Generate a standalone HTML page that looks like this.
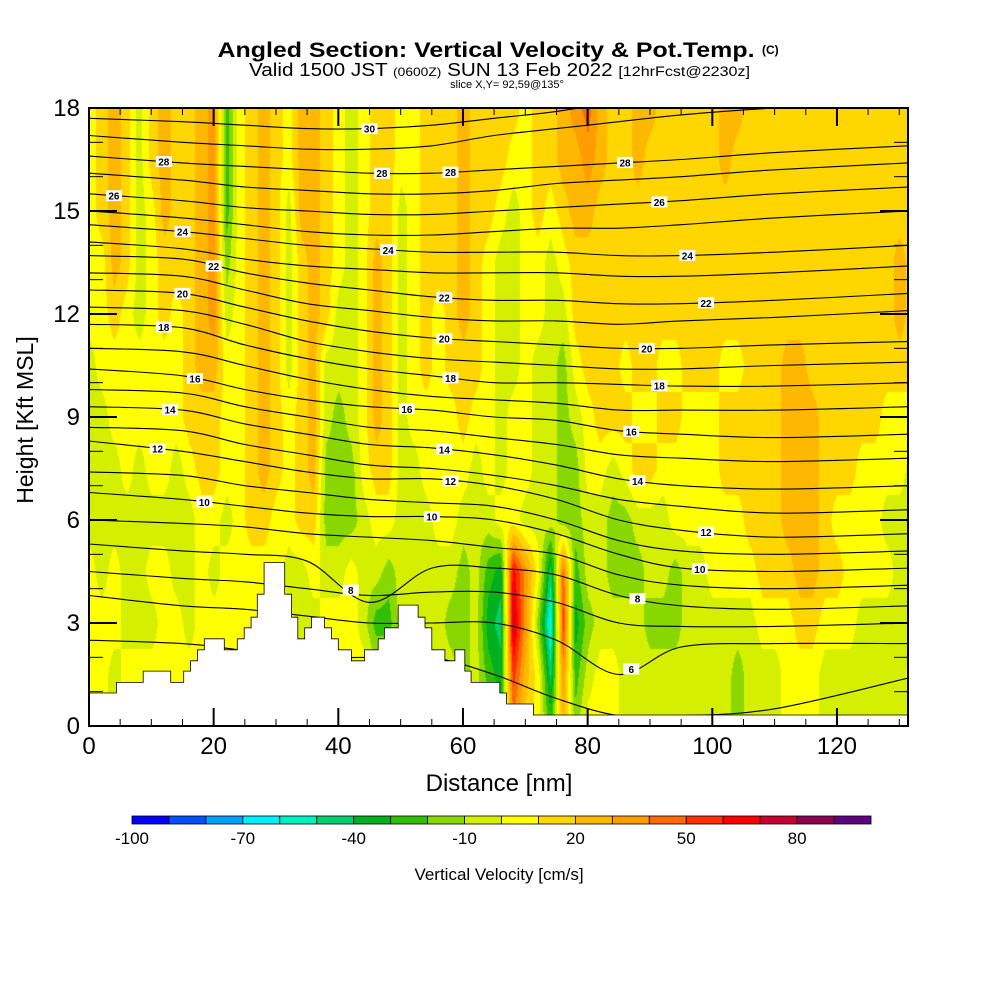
<!DOCTYPE html>
<html><head><meta charset="utf-8"><style>
html,body{margin:0;padding:0;background:#fff;}
#wrap{position:relative;width:1000px;height:1000px;overflow:hidden;font-family:"Liberation Sans",sans-serif;}
#field{position:absolute;left:89px;top:108px;}
#ov{position:absolute;left:0;top:0;}
</style></head><body>
<div id="wrap">
<canvas id="field" width="819" height="618"></canvas>
<svg id="ov" width="1000" height="1000" xmlns="http://www.w3.org/2000/svg">
<g id="contours"></g>
<g id="terrain"></g>
<g id="labels"></g>
<g id="axes"></g>
<g id="cbar"></g>
<text x="486" y="57" font-size="21" font-weight="bold" text-anchor="middle" textLength="537" lengthAdjust="spacingAndGlyphs">Angled Section: Vertical Velocity &amp; Pot.Temp.</text>
<text x="762" y="54" font-size="12" font-weight="bold">(C)</text>
<text x="249" y="76" font-size="18" textLength="501" lengthAdjust="spacingAndGlyphs">Valid 1500 JST <tspan font-size="12">(0600Z)</tspan> SUN 13 Feb 2022 <tspan font-size="14">[12hrFcst@2230z]</tspan></text>
<text x="507" y="88" font-size="11" text-anchor="middle">slice X,Y= 92,59@135°</text>
<text x="499" y="791" font-size="24" text-anchor="middle">Distance [nm]</text>
<text x="0" y="0" font-size="23" text-anchor="middle" transform="translate(33,420) rotate(-90)">Height [Kft MSL]</text>
<text x="499" y="880" font-size="17" text-anchor="middle">Vertical Velocity [cm/s]</text>
</svg>
</div>
<script>
// ---- data ----
const distances = []; for (let d = 0; d <= 132; d += 2) distances.push(d);
const heights = [0,1.5,3,4.5,6,7.5,9,10.5,12,13.5,15,16.5,18];
const vH0   = [5,5,-5,5,5,5,5,5,5,5, 5,5,5,5,5,5,5,5,5,5, 5,5,5,-5,-5,-5,-5,-5,-5,-5, -15,-5,-15,-25,35,15,5,-25,25,-15, 5,5,5,-5,-5,-5,-5,-5,-5,-5, -5,-5,-15,-5,-5,-5,5,5,5,-5, -5,-5,-5,-5,-5,-5,-5];
const vH15  = [5,5,-5,5,5,5,5,5,5,5, 5,5,5,5,5,5,5,5,5,5, 5,5,5,-5,-5,-5,-5,-5,-5,-5, -15,-5,-25,-35,55,25,5,-45,35,-25, -5,5,5,-5,-5,-5,-5,-5,-5,-5, -5,-5,-15,-5,-5,-5,5,5,5,-5, -5,-5,-5,-5,-5,-5,5];
const vH3   = [5,5,5,-5,-5,-5,5,5,-5,5, 5,5,5,5,5,5,5,-5,-5,5, 5,5,-5,-25,-25,-5,-5,-5,-5,-15, -15,-5,-35,-45,75,35,-15,-65,55,-35, -15,-5,-5,-5,-5,-15,-15,-15,-5,-5, -5,-5,-5,-5,5,5,5,15,15,5, 5,5,-5,-5,-5,-5,-5];
const vH45  = [5,-5,5,-5,-5,5,5,-5,-5,5, -5,5,5,5,5,5,-5,-5,5,-5, -5,5,-5,-5,-15,-5,-5,-5,-5,-5, -15,-5,-25,-35,65,35,5,-45,45,-25, -5,-5,-15,-15,-15,-5,-5,-15,-5,-5, 5,5,5,5,15,15,15,25,25,15, 15,5,5,5,5,-5,-5];
const vH6   = [-5,-5,-5,-5,-5,-5,-5,-5,-5,5, 5,-5,5,15,15,5,5,15,15,-15, -15,-15,-5,5,5,-5,-5,-5,5,5, -5,-5,-5,5,5,-5,-5,-5,-15,-15, -5,-5,-15,-15,-5,-5,-5,5,5,5, 5,5,5,15,15,15,25,25,25,15, 5,5,5,5,-5,-5,-5];
const vH75  = [-5,-5,-5,5,-5,5,5,-5,5,15, 15,5,5,15,25,15,5,15,25,-15, -15,-15,5,15,15,-5,-5,5,5,5, 5,-5,5,-5,5,5,-5,-5,-15,-15, 5,5,-5,5,15,15,5,5,5,5, 5,15,15,15,15,15,25,25,25,15, 15,15,5,5,5,5,-5];
const vH9   = [-5,-5,5,5,5,5,5,5,15,15, 15,5,5,15,25,15,5,15,25,-5, -15,-5,5,25,15,-5,5,5,5,5, 15,5,5,-5,5,5,-5,-5,-15,-5, 5,15,15,15,5,5,15,15,5,5, 5,15,15,15,15,15,25,25,25,15, 15,15,15,15,5,5,5];
const vH105 = [-5,5,5,5,5,5,5,5,15,25, 25,5,5,15,25,15,-5,15,25,-5, -5,-5,5,25,15,-5,5,15,5,15, 15,15,5,-5,-5,5,-5,-5,-15,5, 15,15,15,5,15,15,5,5,15,15, 15,5,5,15,15,15,25,25,15,15, 15,15,15,15,15,15,15];
const vH12  = [5,5,15,5,-5,5,15,5,15,25, 35,-5,5,15,25,15,-5,15,25,15, -5,-5,5,25,15,-5,5,15,5,15, 25,15,5,-5,-5,5,5,-5,-5,15, 15,15,15,15,15,15,15,15,15,15, 15,15,15,15,15,15,15,15,15,15, 15,15,15,15,15,25,15];
const vH135 = [5,5,25,15,-5,5,15,15,15,25, 35,-15,5,15,25,15,-5,15,25,15, 5,-5,5,25,15,-5,5,15,15,15, 25,15,5,-5,-5,5,5,-5,5,15, 15,15,15,15,15,15,15,15,15,15, 15,15,15,15,15,15,15,15,15,15, 15,15,15,15,15,25,15];
const vH150 = [5,15,25,15,-5,5,25,15,15,25, 35,-25,5,15,25,15,-5,25,25,15, 5,-5,5,15,15,-5,5,15,15,15, 25,15,15,5,-5,5,15,5,15,25, 25,15,15,15,15,15,15,15,15,15, 15,15,15,15,15,15,15,15,15,15, 15,15,15,15,15,15,15];
const vH165 = [5,15,25,15,-5,15,25,15,15,25, 35,-25,5,15,25,15,5,25,25,15, 5,-5,5,15,15,5,5,15,15,15, 25,15,15,15,5,5,15,15,25,25, 35,25,15,15,25,15,15,15,15,15, 15,25,15,15,15,15,15,15,15,15, 15,15,15,15,15,15,15];
const vH18  = [5,15,25,15,-5,15,25,15,15,25, 35,-25,5,15,25,15,5,25,25,15, 5,-5,5,15,15,5,5,15,15,15, 25,15,15,15,15,5,15,15,25,35, 45,25,15,15,25,25,15,15,15,15, 15,25,25,15,15,15,15,15,15,15, 15,15,15,15,15,15,15];
const velocity = [vH0,vH15,vH3,vH45,vH6,vH75,vH9,vH105,vH12,vH135,vH150,vH165,vH18];

const contourX = [0,15,25,35,45,55,65,75,85,95,110,131.5];
const thetaLevels = [5,6,7,8,9,10,11,12,13,14,15,16,17,18,19,20,21,22,23,24,25,26,27,28,29,30];
const thetaHeights = [
 [2.5,2.4,2.2,2.0,2.0,2.0,1.5,0.8,0.3,0.3,0.5,1.4],
 [3.8,3.5,3.4,3.2,3.0,3.0,3.0,2.5,1.5,2.3,2.4,2.4],
 [4.5,4.3,4.2,4.0,3.8,3.9,3.9,3.6,3.0,2.9,2.9,3.0],
 [5.3,5.1,5.0,4.8,3.6,4.6,4.6,4.4,3.8,3.5,3.4,3.5],
 [6.0,5.9,5.8,5.6,5.5,5.4,5.2,5.0,4.4,4.1,4.0,4.1],
 [6.8,6.6,6.4,6.2,6.1,6.1,6.0,5.6,5.0,4.6,4.5,4.6],
 [7.4,7.3,7.0,6.8,6.6,6.5,6.4,6.0,5.4,5.1,5.0,5.1],
 [8.3,8.0,7.7,7.4,7.2,7.2,7.0,6.6,6.0,5.7,5.5,5.6],
 [8.7,8.6,8.2,7.9,7.6,7.5,7.3,7.0,6.6,6.4,6.2,6.3],
 [9.3,9.2,8.8,8.5,8.2,8.1,7.9,7.6,7.2,7.0,6.9,7.0],
 [9.8,9.7,9.3,9.0,8.7,8.6,8.4,8.2,7.9,7.8,7.7,7.8],
 [10.4,10.2,9.8,9.5,9.3,9.2,9.0,8.9,8.6,8.5,8.4,8.5],
 [11.0,10.9,10.5,10.1,9.8,9.6,9.5,9.4,9.2,9.2,9.2,9.3],
 [11.7,11.6,11.1,10.7,10.4,10.2,10.0,10.0,9.95,9.9,9.9,10.0],
 [12.2,12.1,11.7,11.2,10.9,10.7,10.6,10.5,10.4,10.4,10.5,10.6],
 [12.7,12.6,12.2,11.8,11.5,11.3,11.2,11.1,11.0,11.0,11.1,11.2],
 [13.2,13.1,12.7,12.3,12.1,11.9,11.8,11.8,11.7,11.8,11.9,12.1],
 [13.7,13.6,13.2,12.9,12.7,12.5,12.4,12.4,12.3,12.3,12.4,12.6],
 [14.1,13.9,13.6,13.4,13.3,13.2,13.2,13.2,13.1,13.1,13.2,13.4],
 [14.6,14.4,14.2,14.0,13.9,13.8,13.8,13.8,13.7,13.7,13.8,14.0],
 [15.0,14.8,14.6,14.4,14.3,14.3,14.4,14.5,14.5,14.6,14.8,15.0],
 [15.5,15.3,15.1,15.0,14.9,14.9,15.0,15.1,15.2,15.3,15.5,15.7],
 [16.1,15.9,15.7,15.6,15.5,15.5,15.6,15.8,15.9,16.0,16.2,16.4],
 [16.6,16.4,16.3,16.2,16.1,16.1,16.2,16.3,16.4,16.5,16.7,16.9],
 [17.2,17.0,16.9,16.8,16.8,16.9,17.2,17.4,17.6,17.8,18.0,18.2],
 [17.7,17.6,17.5,17.4,17.4,17.5,17.7,17.9,18.2,18.5,18.8,19.0]
];
const labelLevels = [30,28,26,24,22,20,18,16,14,12,10, 28,28,24,22,20,18,16,14,12,10,8, 28,26,24,22,20,18,16,14,12,10,8,6];
const labelDist   = [45,12,4,15,20,15,12,17,13,11,18.5, 58,47,48,57,57,58,51,57,58,55,42, 86,91.5,96,99,89.5,91.5,87,88,99,98,88,87];
const terrainStart = [0,4.4,8.7,13.1,15.2,16.3,17.4,18.5,21.7,23.8,24.9,26.0,27.0,28.1,31.4,32.5,33.5,34.6,35.7,37.8,38.9,40.0,42.1,44.2,46.4,47.4,49.6,52.8,53.9,55.0,57.1,58.7,60.3,61.3,65.9,67.0,71.3];
const terrainHeight= [0.96,1.27,1.6,1.27,1.6,1.9,2.22,2.54,2.22,2.54,2.86,3.17,3.84,4.76,3.84,3.17,2.54,2.86,3.17,2.86,2.54,2.22,1.9,2.22,2.54,2.86,3.52,3.17,2.86,2.22,1.9,2.22,1.6,1.27,0.96,0.64,0.32];
const xTicks = [0,20,40,60,80,100,120];
const yTicks = [0,3,6,9,12,15,18];
const cbarTickLabels = [-100,-70,-40,-10,20,50,80];
const cbarColors = ['#0000ff','#0050ff','#00a0ff','#00f0ff','#00f0c0','#00d070','#00b020','#30c000','#88d800','#d4f000','#ffff00','#ffd600','#ffb800','#ff9c00','#ff6a00','#ff3000','#ff0000','#c80030','#900050','#600080'];

// ---- scales ----
const X0 = 89, X1 = 908, Y0 = 726, Y1 = 108;
const xPer = 6.233, yPer = (Y0 - Y1) / 18;
const sx = d => X0 + d * xPer;
const sy = h => Y0 - h * yPer;
const NS = 'http://www.w3.org/2000/svg';
function mk(tag, attrs, parent) { const e = document.createElementNS(NS, tag); for (const k in attrs) e.setAttribute(k, attrs[k]); parent.appendChild(e); return e; }

// ---- field ----
function sample(d, h) {
  let i = Math.min(distances.length - 2, Math.max(0, Math.floor(d / 2)));
  let fx = Math.min(1, Math.max(0, (d - distances[i]) / (distances[i+1] - distances[i])));
  let j = 0; while (j < heights.length - 2 && h > heights[j+1]) j++;
  let fy = Math.min(1, Math.max(0, (h - heights[j]) / (heights[j+1] - heights[j])));
  const a = velocity[j][i], b = velocity[j][i+1], c = velocity[j+1][i], e = velocity[j+1][i+1];
  return (a*(1-fx)+b*fx)*(1-fy) + (c*(1-fx)+e*fx)*fy;
}
const rgb = cbarColors.map(c => [parseInt(c.substr(1,2),16), parseInt(c.substr(3,2),16), parseInt(c.substr(5,2),16)]);
(function drawField(){
  const cv = document.getElementById('field'), ctx = cv.getContext('2d');
  const W = cv.width, H = cv.height, img = ctx.createImageData(W, H);
  for (let py = 0; py < H; py++) {
    const h = (H - py) / yPer;
    for (let px = 0; px < W; px++) {
      const v = sample(px / xPer, h);
      let bin = Math.floor((v + 100) / 10); bin = Math.max(0, Math.min(19, bin));
      const k = (py * W + px) * 4, c = rgb[bin];
      img.data[k] = c[0]; img.data[k+1] = c[1]; img.data[k+2] = c[2]; img.data[k+3] = 255;
    }
  }
  ctx.putImageData(img, 0, 0);
})();

// ---- contours ----
function lineHeight(li, d) {
  const hs = thetaHeights[li];
  for (let k = 0; k < contourX.length - 1; k++) {
    if (d <= contourX[k+1]) { const f = (d - contourX[k]) / (contourX[k+1] - contourX[k]); return hs[k] + (hs[k+1]-hs[k]) * f; }
  }
  return hs[hs.length-1];
}
function catmull(pts) {
  let s = 'M' + pts[0][0].toFixed(1) + ',' + pts[0][1].toFixed(1);
  for (let i = 0; i < pts.length - 1; i++) {
    const p0 = pts[Math.max(0,i-1)], p1 = pts[i], p2 = pts[i+1], p3 = pts[Math.min(pts.length-1,i+2)];
    const c1 = [p1[0]+(p2[0]-p0[0])/6, p1[1]+(p2[1]-p0[1])/6], c2 = [p2[0]-(p3[0]-p1[0])/6, p2[1]-(p3[1]-p1[1])/6];
    s += 'C' + c1.map(n=>n.toFixed(1)).join(',') + ' ' + c2.map(n=>n.toFixed(1)).join(',') + ' ' + p2.map(n=>n.toFixed(1)).join(',');
  }
  return s;
}
const gC = document.getElementById('contours');
const clip = mk('clipPath', {id:'plotclip'}, gC);
mk('rect', {x: X0, y: Y1, width: X1-X0, height: Y0-Y1}, clip);
gC.setAttribute('clip-path','url(#plotclip)');
thetaLevels.forEach((lv, li) => {
  const pts = contourX.map((d, k) => [sx(d), sy(thetaHeights[li][k])]);
  const p = mk('path', {d: catmull(pts), fill:'none', stroke:'#000', 'stroke-width':'1.1'}, gC);
  
  
});

// ---- terrain ----
const gT = document.getElementById('terrain');
let td = 'M' + sx(0) + ',' + Y0;
terrainStart.forEach((d, k) => {
  const end = k < terrainStart.length - 1 ? terrainStart[k+1] : 131.4;
  td += ' L' + sx(d).toFixed(1) + ',' + sy(terrainHeight[k]).toFixed(1) + ' L' + sx(end).toFixed(1) + ',' + sy(terrainHeight[k]).toFixed(1);
});
td += ' L' + X1 + ',' + Y0 + ' Z';
const tp = mk('path', {d: td, fill:'#fff', stroke:'#000', 'stroke-width':'0.8'}, gT);



// ---- contour labels ----
const gL = document.getElementById('labels');
labelLevels.forEach((lv, k) => {
  const li = thetaLevels.indexOf(lv); if (li < 0) return;
  const d = labelDist[k], x = sx(d), y = sy(lineHeight(li, d));
  const g = mk('g', {}, gL);
  
  
  mk('rect', {x: x-8, y: y-5.5, width: 16, height: 11, fill:'#fff'}, g);
  const t = mk('text', {x: x, y: y+4, 'font-size':'10', 'font-weight':'bold', 'text-anchor':'middle'}, g);
  t.textContent = lv;
});

// ---- axes ----
const gA = document.getElementById('axes');
mk('rect', {x: X0, y: Y1, width: X1-X0, height: Y0-Y1, fill:'none', stroke:'#000', 'stroke-width':'2'}, gA);
for (let d = 0; d <= 130; d += 5) {
  const major = d % 20 === 0, L = major ? 18 : 7, x = sx(d);
  mk('line', {x1:x, y1:Y0, x2:x, y2:Y0-L, stroke:'#000', 'stroke-width': major?2:1}, gA);
  mk('line', {x1:x, y1:Y1, x2:x, y2:Y1+L, stroke:'#000', 'stroke-width': major?2:1}, gA);
}
for (let h = 1; h < 18; h++) {
  const major = h % 3 === 0, L = major ? 28 : 14, y = sy(h);
  mk('line', {x1:X0, y1:y, x2:X0+L, y2:y, stroke:'#000', 'stroke-width': major?2:1}, gA);
  mk('line', {x1:X1, y1:y, x2:X1-L, y2:y, stroke:'#000', 'stroke-width': major?2:1}, gA);
}
xTicks.forEach(v => {
  const t = mk('text', {x: sx(v), y: 754, 'font-size':'24', 'text-anchor':'middle'}, gA);
  
  
  t.textContent = v;
});
yTicks.forEach(v => {
  const t = mk('text', {x: 80, y: sy(v)+8, 'font-size':'24', 'text-anchor':'end'}, gA);
  
  
  t.textContent = v;
});

// ---- colorbar ----
const gB = document.getElementById('cbar');
const CB0 = 132, CBW = 36.95;
cbarColors.forEach((c, k) => {
  const r = mk('rect', {x: CB0 + k*CBW, y: 816, width: CBW, height: 8, fill: c, stroke:'#000', 'stroke-width':'0.8'}, gB);
  
  
});
cbarTickLabels.forEach(v => {
  const t = mk('text', {x: CB0 + (v + 100) / 10 * CBW, y: 844, 'font-size':'17', 'text-anchor':'middle'}, gB);
  
  
  t.textContent = v;
});
</script>
</body></html>
